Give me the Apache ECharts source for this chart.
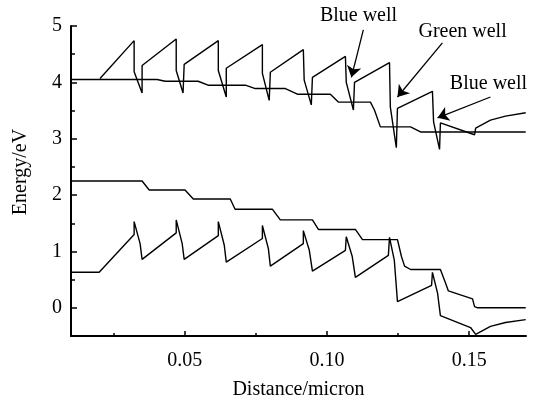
<!DOCTYPE html>
<html><head><meta charset="utf-8">
<script src="https://cdn.jsdelivr.net/npm/echarts@6/dist/echarts.min.js"></script>
<style>html,body{margin:0;padding:0;background:#fff}#c{width:542px;height:405px}</style>
</head><body><div id="c"></div>
<script>
// Axis ticks
const xRange = [0.01, 0.17];
const yRange = [-0.5, 5];
const xTicks = [0.05, 0.10, 0.15];
const xMinorTicks = [0.025, 0.075, 0.125];
const yTicks = [0, 1, 2, 3, 4, 5];
const yMinorTicks = [0.5, 1.5, 2.5, 3.5, 4.5];

// Conduction band edge (sawtooth)
const cbWell = [
  [0.0202,4.07],[0.0322,4.74],[0.0322,4.19],[0.0350,3.81],[0.0350,4.30],
  [0.0470,4.77],[0.0470,4.21],[0.0494,3.81],[0.0498,4.32],
  [0.0618,4.74],[0.0618,4.21],[0.0646,3.74],[0.0646,4.25],
  [0.0773,4.67],[0.0773,4.16],[0.0797,3.68],[0.0801,4.18],
  [0.0917,4.58],[0.0920,4.04],[0.0945,3.60],[0.0949,4.09],
  [0.1065,4.46],[0.1068,4.00],[0.1093,3.51],[0.1097,4.00],
  [0.1220,4.35],[0.1223,3.56],[0.1244,2.84],[0.1248,3.54],
  [0.1371,3.84],[0.1375,3.30],[0.1396,2.81],[0.1399,3.28],
  [0.1519,3.07],[0.1523,3.19],[0.1575,3.33],[0.1628,3.40],[0.1699,3.46]
];
// Upper quasi level (steps)
const cbLevel = [
  [0.0100,4.05],[0.0403,4.05],[0.0431,4.02],[0.0547,4.02],[0.0582,3.95],
  [0.0713,3.95],[0.0748,3.89],[0.0854,3.89],[0.0896,3.79],[0.1012,3.79],
  [0.1040,3.65],[0.1153,3.65],[0.1167,3.51],[0.1188,3.21],[0.1294,3.21],
  [0.1329,3.12],[0.1699,3.12]
];
// Lower quasi level (steps)
const vbLevel = [
  [0.0100,2.25],[0.0350,2.25],[0.0375,2.09],[0.0501,2.09],[0.0530,1.93],
  [0.0660,1.93],[0.0677,1.75],[0.0808,1.75],[0.0836,1.56],[0.0949,1.56],
  [0.0970,1.39],[0.1100,1.39],[0.1125,1.21],[0.1248,1.21],[0.1262,0.91],
  [0.1273,0.74],[0.1294,0.68],[0.1399,0.68],[0.1417,0.44],[0.1427,0.30],
  [0.1512,0.16],[0.1519,0.02],[0.1530,0.00],[0.1699,0.00]
];
// Valence band edge (sawtooth)
const vbWell = [
  [0.0100,0.63],[0.0199,0.63],[0.0322,1.30],[0.0322,1.53],[0.0343,1.14],[0.0350,0.86],
  [0.0470,1.33],[0.0470,1.56],[0.0491,1.14],[0.0498,0.86],
  [0.0618,1.28],[0.0618,1.53],[0.0639,1.11],[0.0646,0.81],
  [0.0773,1.23],[0.0773,1.46],[0.0794,1.05],[0.0801,0.74],
  [0.0917,1.14],[0.0917,1.37],[0.0938,1.02],[0.0949,0.65],
  [0.1065,1.02],[0.1068,1.26],[0.1089,0.91],[0.1100,0.54],
  [0.1216,0.93],[0.1220,1.25],[0.1237,0.84],[0.1248,0.11],
  [0.1368,0.40],[0.1371,0.63],[0.1389,0.26],[0.1399,-0.14],
  [0.1505,-0.35],[0.1523,-0.47],[0.1575,-0.33],[0.1628,-0.26],[0.1699,-0.21]
];
// Annotations: label text, label position, arrow start, arrow end (data units)
const annTexts = ['Blue well', 'Green well', 'Blue well'];
const annTextPos = [[0.1111,5.175],[0.1477,4.895],[0.1568,3.98]];
const annArrowFrom = [[0.1128,4.93],[0.1406,4.70],[0.1575,3.74]];
const annArrowTo = [[0.1086,4.09],[0.1248,3.74],[0.1389,3.37]];

const FONT = 'Liberation Serif';
const chart = echarts.init(document.getElementById('c'), null, {renderer:'canvas'});
const lineStyle = {color:'#000', width:1.4};
function mkSeries(name, data, extra){
  return Object.assign({
    name, type:'line', data, showSymbol:false, symbol:'none',
    lineStyle, animation:false, silent:true, clip:false
  }, extra||{});
}
const arrowData = annArrowFrom.map((p,i)=>[{coord:p},{coord:annArrowTo[i]}]);

chart.setOption({
  animation:false,
  backgroundColor:'#fff',
  grid:{left:71, right:16, top:26, bottom:67},
  xAxis:[{
    type:'value', min:xRange[0], max:xRange[1], position:'bottom',
    name:'Distance/micron', nameLocation:'middle', nameGap:44,
    nameTextStyle:{fontFamily:FONT, fontSize:20, color:'#000'},
    axisLine:{onZero:false, lineStyle:{color:'#000', width:2}},
    axisTick:{inside:true, length:5, customValues:xTicks, lineStyle:{color:'#000', width:1.5}},
    axisLabel:{customValues:xTicks, margin:15, fontFamily:FONT, fontSize:20, color:'#000',
      formatter:v=>v.toFixed(2)},
    splitLine:{show:false}
  },{
    type:'value', min:xRange[0], max:xRange[1], position:'bottom',
    axisLine:{show:false, onZero:false},
    axisTick:{inside:true, length:3, customValues:xMinorTicks, lineStyle:{color:'#000', width:1.5}},
    axisLabel:{show:false}, splitLine:{show:false}
  }],
  yAxis:[{
    type:'value', min:yRange[0], max:yRange[1], position:'left',
    name:'Energy/eV', nameLocation:'middle', nameGap:40, nameRotate:90,
    nameTextStyle:{fontFamily:FONT, fontSize:20, color:'#000', padding:[0,0,0,18]},
    axisLine:{onZero:false, lineStyle:{color:'#000', width:2}},
    axisTick:{inside:true, length:6, customValues:yTicks, lineStyle:{color:'#000', width:1.5}},
    axisLabel:{customValues:yTicks, margin:9, fontFamily:FONT, fontSize:20, color:'#000'},
    splitLine:{show:false}
  },{
    type:'value', min:yRange[0], max:yRange[1], position:'left',
    axisLine:{show:false, onZero:false},
    axisTick:{inside:true, length:4, customValues:yMinorTicks, lineStyle:{color:'#000', width:1.5}},
    axisLabel:{show:false}, splitLine:{show:false}
  }],
  series:[
    mkSeries('cbLevel', cbLevel),
    mkSeries('cbWell', cbWell),
    mkSeries('vbLevel', vbLevel),
    mkSeries('vbWell', vbWell),
    {
      type:'line', data:[], silent:true, animation:false,
      markLine:{
        silent:true, animation:false, symbol:['none','arrow'], symbolSize:11,
        label:{show:false}, lineStyle:{color:'#000', width:1.3, type:'solid'},
        emphasis:{disabled:true},
        data:arrowData
      }
    }
  ]
});

const texts = annTexts.map((t,i)=>{
  const p = chart.convertToPixel({xAxisIndex:0, yAxisIndex:0}, annTextPos[i]);
  return {type:'text', x:p[0], y:p[1], silent:true,
    style:{text:t, font:'20px "'+FONT+'"', fill:'#000', align:'center', verticalAlign:'middle'}};
});
chart.setOption({graphic:texts});
</script>
</body></html>
